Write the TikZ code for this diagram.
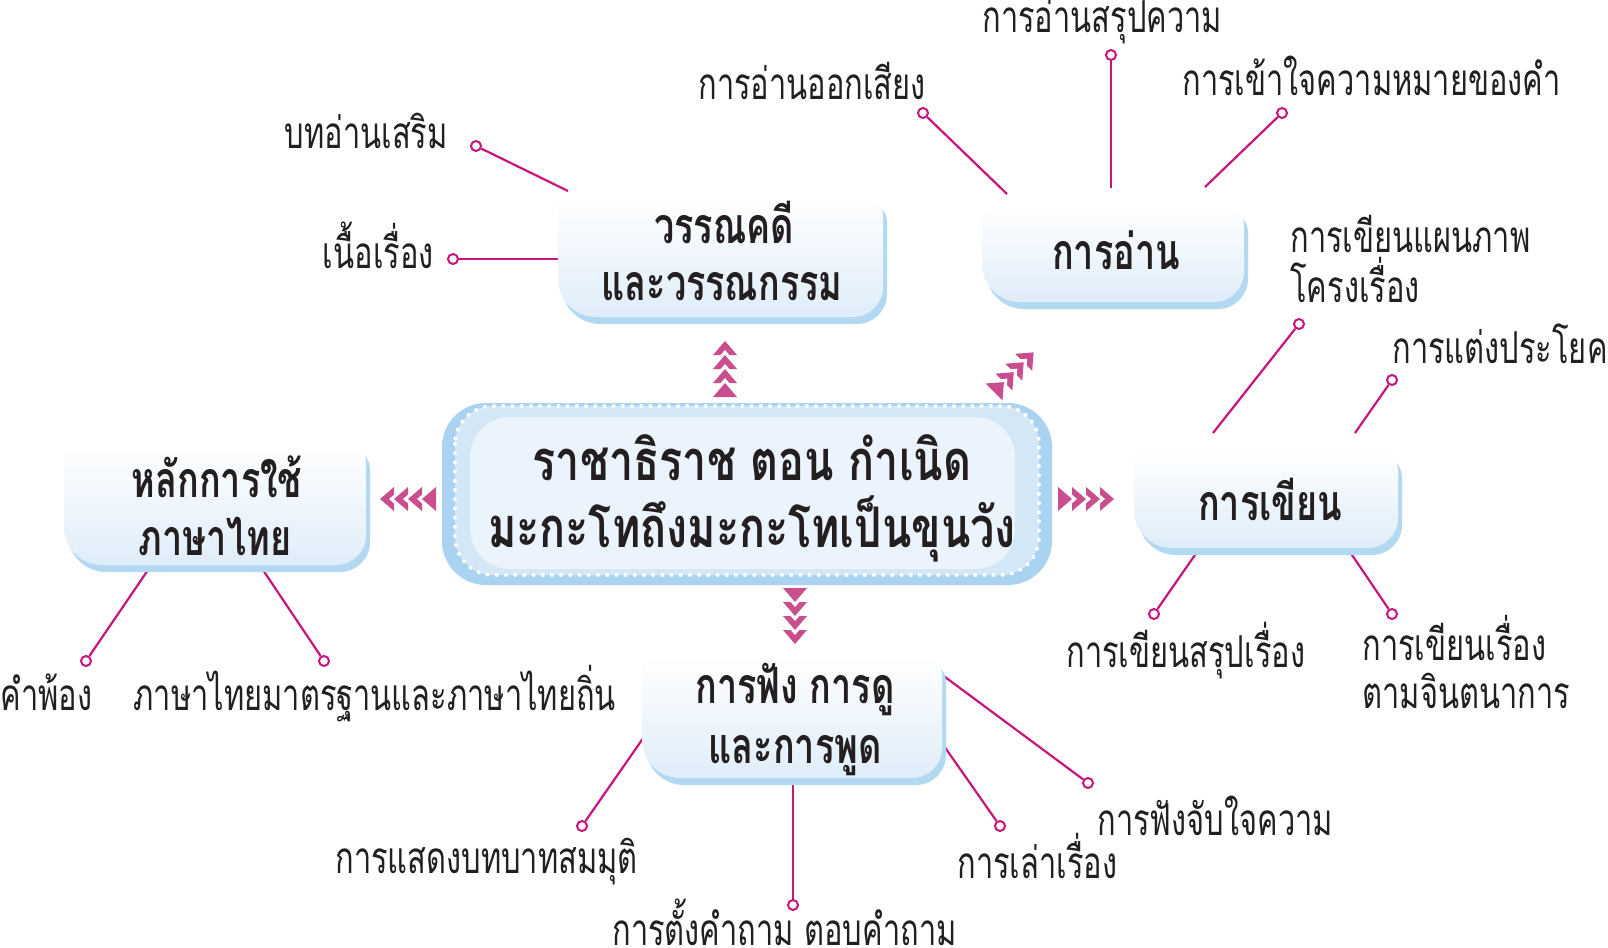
\documentclass[tikz,border=0pt]{standalone}
\usepackage{fontspec}
\newfontfamily\thaiL[Script=Thai,FakeStretch=0.70]{Loma}
\newfontfamily\thaiB[Script=Thai,FakeStretch=0.72]{Loma}
\newfontfamily\thaiC[Script=Thai,FakeStretch=0.77]{Loma}
\definecolor{lnk}{HTML}{C8157E}
\definecolor{arr}{HTML}{C84E8E}
\definecolor{shad}{HTML}{B3D8F2}
\definecolor{boxbot}{HTML}{DFEDF9}
\definecolor{cout}{HTML}{A9D3F0}
\definecolor{cmid}{HTML}{D3E7F7}
\definecolor{cin}{HTML}{EBF4FC}
\definecolor{txt}{HTML}{231F20}
\tikzset{
 leaf/.style={font=\thaiL\fontsize{22}{26}\selectfont, text=txt, inner sep=0pt},
 boxtxt/.style={font=\thaiB\bfseries\fontsize{25}{30}\selectfont, text=txt, inner sep=0pt},
 centertxt/.style={font=\thaiC\bfseries\fontsize{28}{33}\selectfont, text=txt, inner sep=0pt},
 endpt/.style={circle, draw=lnk, fill=white, line width=1pt, minimum size=5pt, inner sep=0pt},
 conn/.style={draw=lnk, line width=1.1pt},
}
\newcommand\bubble[5]{\path[#1] ({#2+14},#3) -- ({#4-20},#3) arc[start angle=270,end angle=360,radius=20] -- (#4,{#5-30}) arc[start angle=0,end angle=90,radius=30] -- ({#2+38},#5) arc[start angle=90,end angle=180,radius=38] -- (#2,{#3+14}) arc[start angle=180,end angle=270,radius=14] -- cycle;}
\newcommand\tbubble[4]{\bubble{fill=shad, shift={(4,7)}}{#1}{#2}{#3}{#4}\bubble{top color=white, bottom color=boxbot}{#1}{#2}{#3}{#4}}
\newcommand\chev[3]{%
\begin{scope}[shift={(#1,#2)},rotate=#3]
\fill[arr] (42,-12) -- (56,0) -- (42,12) -- cycle;
\fill[white] (33,-12) -- (47,0) -- (33,12) -- cycle;
\fill[arr] (28,-12) -- (42,0) -- (28,12) -- cycle;
\fill[white] (19,-12) -- (33,0) -- (19,12) -- cycle;
\fill[arr] (14,-12) -- (28,0) -- (14,12) -- cycle;
\fill[white] (5,-12) -- (19,0) -- (5,12) -- cycle;
\fill[arr] (0,-12) -- (14,0) -- (0,12) -- cycle;
\end{scope}}
\begin{document}
\begin{tikzpicture}[x=0.5pt,y=-0.5pt]
\useasboundingbox (0,0) rectangle (1608,948);
\fill[white] (0,0) rectangle (1608,948);

% end points
\node[endpt] (cbt) at (476,146) {};
\node[endpt] (cnr) at (453,259) {};
\node[endpt] (cok) at (923,113) {};
\node[endpt] (csp) at (1111,55) {};
\node[endpt] (ckk) at (1282,113) {};
\node[endpt] (cpp) at (1299,324) {};
\node[endpt] (ctp) at (1392,380) {};
\node[endpt] (csr) at (1154,614) {};
\node[endpt] (cjn) at (1392,614) {};
\node[endpt] (ckp) at (86,661) {};
\node[endpt] (cms) at (324,661) {};
\node[endpt] (csd) at (582,826) {};
\node[endpt] (ctk) at (793,905) {};
\node[endpt] (clr) at (1000,826) {};
\node[endpt] (cfj) at (1088,783) {};

\coordinate (abt) at (568,191);
\coordinate (anr) at (562,259);
\coordinate (aok) at (1007,194);
\coordinate (asp) at (1111,188);
\coordinate (akk) at (1205,187);
\coordinate (app) at (1213,433);
\coordinate (atp) at (1355,433);
\coordinate (asr) at (1197,552);
\coordinate (ajn) at (1350,552);
\coordinate (akp) at (148,570);
\coordinate (ams) at (263,570);
\coordinate (asd) at (644,737);
\coordinate (atk) at (793,784);
\coordinate (alr) at (944,746);
\coordinate (afj) at (941,674);

\foreach \a/\c in {abt/cbt,anr/cnr,aok/cok,asp/csp,akk/ckk,app/cpp,atp/ctp,asr/csr,ajn/cjn,akp/ckp,ams/cms,asd/csd,atk/ctk,alr/clr,afj/cfj}
 \draw[conn] (\a) -- (\c);

% boxes
\tbubble{558}{195}{883}{317}
\tbubble{982}{205}{1244}{302}
\tbubble{1134}{450}{1398}{548}
\tbubble{64}{442}{366}{565}
\tbubble{642}{655}{942}{778}

% central box
\path[fill=cout, rounded corners=22pt] (442,403) rectangle (1052,585);
\path[fill=cmid, rounded corners=19pt] (455,406) rectangle (1039,575);
\path[fill=cin, rounded corners=20pt] (470,417) rectangle (1015,569);
\draw[white, line width=2pt, dash pattern=on 0pt off 4.6pt, line cap=round, rounded corners=19pt] (455,406) rectangle (1039,575);

% box texts
\node[centertxt, anchor=base] (m1) at (752,480) {ราชาธิราช ตอน กำเนิด};
\node[centertxt, anchor=base] (m2) at (752,547) {มะกะโทถึงมะกะโทเป็นขุนวัง};
\node[boxtxt, anchor=base] (t1a) at (724,243) {วรรณคดี};
\node[boxtxt, anchor=base] (t1b) at (722,300) {และวรรณกรรม};
\node[boxtxt, anchor=base] (t2) at (1116,269) {การอ่าน};
\node[boxtxt, anchor=base] (t3) at (1270,520) {การเขียน};
\node[boxtxt, anchor=base] (t4a) at (217,497) {หลักการใช้};
\node[boxtxt, anchor=base] (t4b) at (215,555) {ภาษาไทย};
\node[boxtxt, anchor=base] (t5a) at (795,703) {การฟัง การดู};
\node[boxtxt, anchor=base] (t5b) at (795,763) {และการพูด};

% leaf texts
\node[leaf, anchor=base east] (lbt) at (448,148) {บทอ่านเสริม};
\node[leaf, anchor=base east] (lnr) at (434,268) {เนื้อเรื่อง};
\node[leaf, anchor=base west] (lok) at (698,99) {การอ่านออกเสียง};
\node[leaf, anchor=base west] (lsp) at (982,32) {การอ่านสรุปความ};
\node[leaf, anchor=base west] (lkk) at (1182,95) {การเข้าใจความหมายของคำ};
\node[leaf, anchor=base west] (lpp1) at (1290,252) {การเขียนแผนภาพ};
\node[leaf, anchor=base west] (lpp2) at (1290,302) {โครงเรื่อง};
\node[leaf, anchor=base west] (ltp) at (1392,363) {การแต่งประโยค};
\node[leaf, anchor=base west] (lsr) at (1066,667) {การเขียนสรุปเรื่อง};
\node[leaf, anchor=base west] (ljn1) at (1362,660) {การเขียนเรื่อง};
\node[leaf, anchor=base west] (ljn2) at (1362,708) {ตามจินตนาการ};
\node[leaf, anchor=base west] (lkp) at (0,710) {คำพ้อง};
\node[leaf, anchor=base west] (lms) at (133,710) {ภาษาไทยมาตรฐานและภาษาไทยถิ่น};
\node[leaf, anchor=base west] (lsd) at (335,873) {การแสดงบทบาทสมมุติ};
\node[leaf, anchor=base west] (ltk) at (612,945) {การตั้งคำถาม ตอบคำถาม};
\node[leaf, anchor=base west] (llr) at (957,878) {การเล่าเรื่อง};
\node[leaf, anchor=base west] (lfj) at (1097,835) {การฟังจับใจความ};

% arrows
\chev{725}{397}{90}
\chev{994}{392}{45}
\chev{436}{499}{180}
\chev{1058}{499}{0}
\chev{795}{588}{-90}
\end{tikzpicture}
\end{document}
